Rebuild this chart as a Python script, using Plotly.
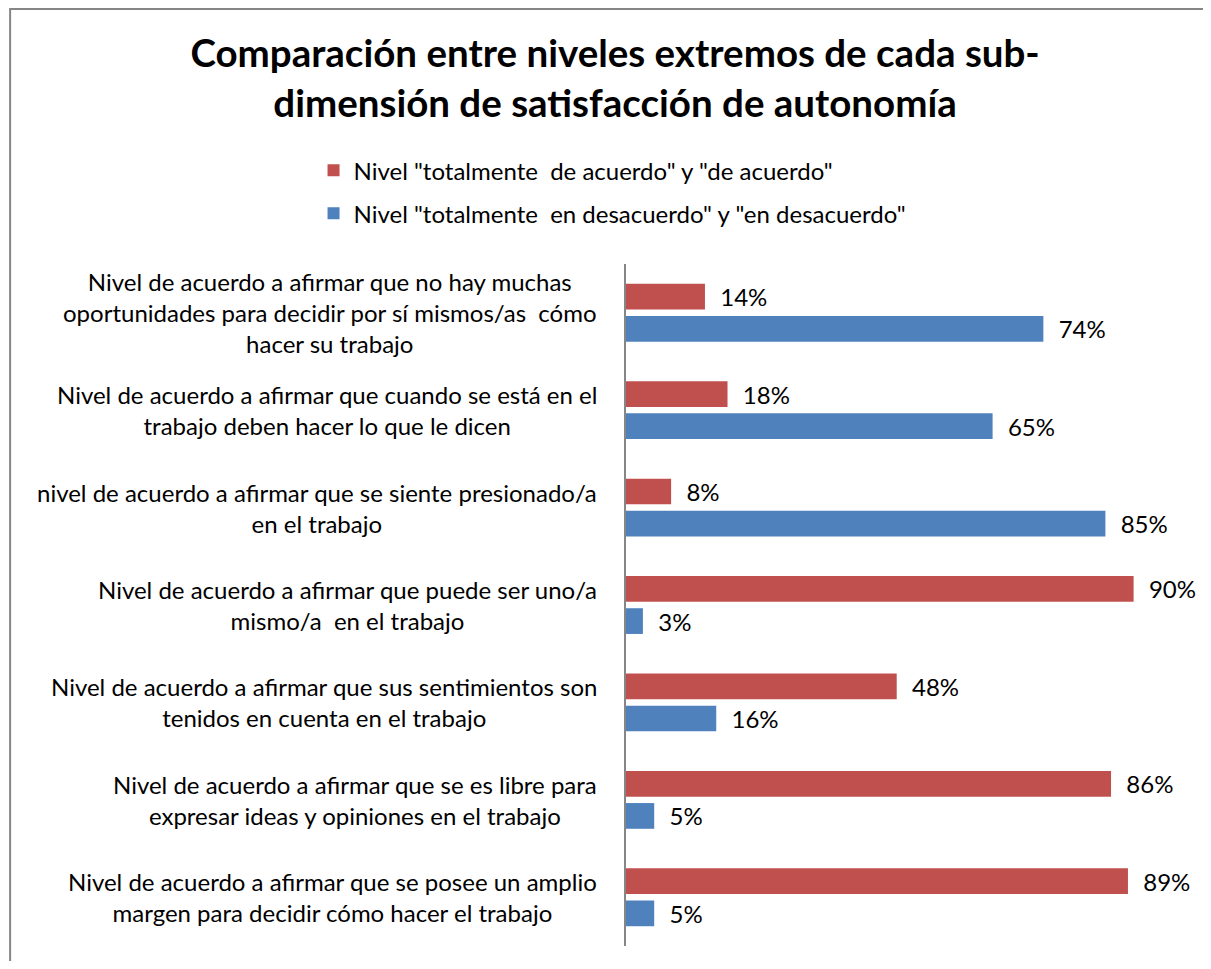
import plotly.graph_objects as go

# categorías de arriba hacia abajo
CATEGORIAS = [
    "Nivel de acuerdo a afirmar que no hay muchas<br>oportunidades para decidir por sí mismos/as  cómo<br>hacer su trabajo",
    "Nivel de acuerdo a afirmar que cuando se está en el<br>trabajo deben hacer lo que le dicen",
    "nivel de acuerdo a afirmar que se siente presionado/a<br>en el trabajo",
    "Nivel de acuerdo a afirmar que puede ser uno/a<br>mismo/a  en el trabajo",
    "Nivel de acuerdo a afirmar que sus sentimientos son<br>tenidos en cuenta en el trabajo",
    "Nivel de acuerdo a afirmar que se es libre para<br>expresar ideas y opiniones en el trabajo",
    "Nivel de acuerdo a afirmar que se posee un amplio<br>margen para decidir cómo hacer el trabajo",
]
DE_ACUERDO = [0.14, 0.18, 0.08, 0.90, 0.48, 0.86, 0.89]
EN_DESACUERDO = [0.74, 0.65, 0.85, 0.03, 0.16, 0.05, 0.05]
SERIES = ['Nivel "totalmente  de acuerdo" y "de acuerdo"',
          'Nivel "totalmente  en desacuerdo" y "en desacuerdo"']

ROJO, AZUL, GRIS = "#C0504D", "#4F81BD", "#868686"
FUENTE = "Lato, Carlito, Calibri, sans-serif"
PAD = "\u00a0\u00a0"

fig = go.Figure()
for nombre, vals, color, grupo in [(SERIES[0], DE_ACUERDO, ROJO, "a"),
                                    (SERIES[1], EN_DESACUERDO, AZUL, "b")]:
    fig.add_trace(go.Bar(
        y=CATEGORIAS, x=vals, orientation="h", name=nombre, legendgroup=grupo,
        marker=dict(color=color, line=dict(width=0)),
        texttemplate=PAD + "%{x:.0%}", textposition="outside", constraintext="none",
        cliponaxis=False, textfont=dict(family=FUENTE, size=24, color="black"),
        hoverinfo="skip"))

# etiquetas de categoría centradas, como en Excel
for c in CATEGORIAS:
    fig.add_annotation(x=0, y=c, xref="x", yref="y", text=c, showarrow=False,
                       xanchor="right", align="center", xshift=-27,
                       font=dict(family=FUENTE, size=24, color="black"))

# marco del gráfico
fig.add_shape(type="rect", xref="paper", yref="paper", x0=-1.092, x1=1.08,
              y0=-0.06, y1=1.374, line=dict(color=GRIS, width=2))

fig.update_layout(
    width=1195, height=953,
    margin=dict(l=618, r=13, t=256, b=15, autoexpand=False),
    paper_bgcolor="white", plot_bgcolor="white",
    barmode="group", bargap=0.34, bargroupgap=0.2,
    title=dict(text="Comparación entre niveles extremos de cada sub-<br>dimensión de satisfacción de autonomía",
               x=0.508, xanchor="center", y=0.938, yanchor="middle", yref="container",
               font=dict(family=FUENTE, size=38.5, color="black", weight="bold")),
    legend=dict(x=-0.554, y=1.170, xanchor="left", yanchor="top", orientation="v",
                tracegroupgap=9, traceorder="grouped",
                font=dict(family=FUENTE, size=24, color="black"), bgcolor="rgba(0,0,0,0)"),
    showlegend=True,
)
fig.update_xaxes(range=[0, 1], visible=False, fixedrange=True)
fig.update_yaxes(autorange="reversed", showticklabels=False, ticks="", showgrid=False,
                 showline=True, linecolor=GRIS, linewidth=1.5, zeroline=False)

fig.write_html("out.html")
